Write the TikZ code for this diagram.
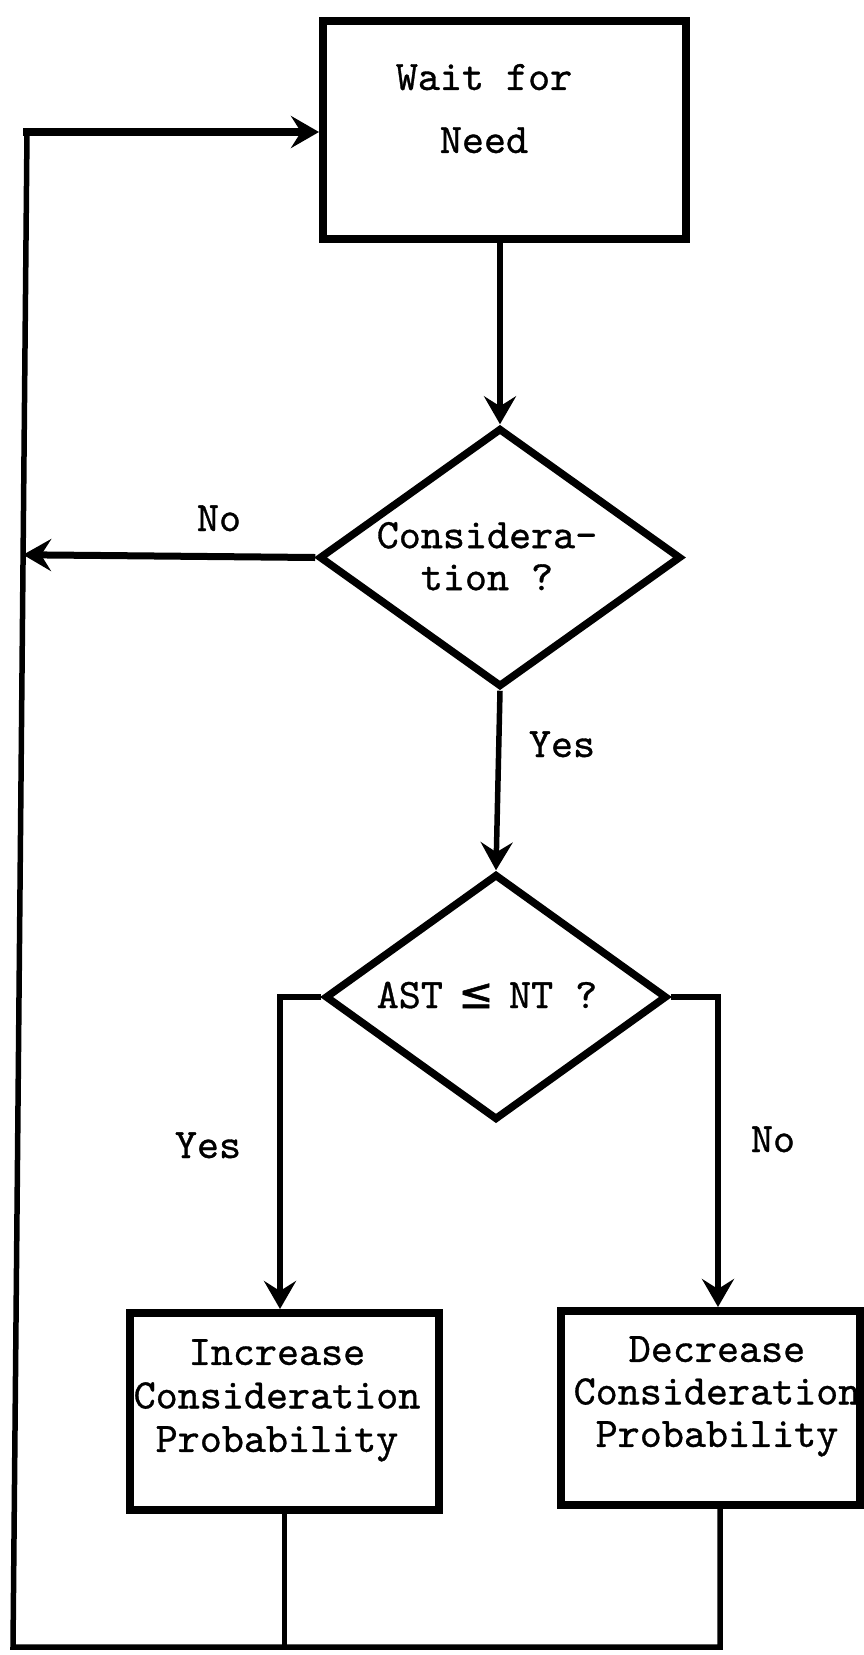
\documentclass[tikz,border=0pt]{standalone}
\usepackage{fontspec}
\newfontfamily\dvsym{DejaVu Sans}[FakeBold=1.2]
\newfontfamily\tw{lmmono10-regular.otf}[FakeBold=0.8]
\usetikzlibrary{shapes.geometric,arrows.meta,calc}
\tikzset{
  txt/.style={font=\fontsize{42}{#1}\selectfont\tw, inner sep=0pt, align=center},
  lbl/.style={font=\fontsize{42}{42}\selectfont\tw, inner sep=0pt, anchor=base},
  boxnode/.style={draw, rectangle, line width=8pt},
  decision/.style={draw, diamond, line width=7.5pt, inner sep=0pt},
  conn/.style={line width=5.5pt, -{Stealth[length=28pt,width=32pt,inset=10pt]}},
  flow/.style={line width=5.5pt},
}
\begin{document}
\begin{tikzpicture}[x=1pt,y=-1pt,line join=miter]
\useasboundingbox (0,0) rectangle (863,1655);
% boxes and decisions
\node[boxnode, minimum width=363pt, minimum height=218pt] (wait) at (504.5,130) {};
\node[txt=63] (waitT) at (484,108.6) {Wait for\\Need};
\node[decision, minimum width=362pt, minimum height=259pt] (d1) at (500,557.5) {};
\node[txt=42] (d1T) at (487,556.2) {Considera-\\tion ?};
\node[decision, minimum width=342pt, minimum height=246pt] (d2) at (496,997) {};
\node[lbl] (d2T) at (487,1008) {AST \makebox[0.525em]{{\dvsym ≤}} NT ?};
\node[txt=43.5] (incT) at (277,1400.3) {Increase\\Consideration\\Probability};
\node[boxnode, minimum width=309pt, minimum height=197pt] (inc) at (284.5,1411.5) {};
\node[txt=42.5] (decT) at (717,1396.3) {Decrease\\Consideration\\Probability};
\node[boxnode, minimum width=299pt, minimum height=194pt] (dec) at (710.5,1408) {};
% loop corners
\coordinate (tl) at (27,132);
\coordinate (bl) at (13,1647);
% connectors
\draw[conn, line width=6pt] (wait.south -| d1.north) -- (d1.north);
\draw[conn] (d1.south) -- (d2.north);
\draw[conn, line width=7pt] (d1.west) -- ($(tl)!(d1.west)!(bl)$);
\draw[conn] (d2.west) -| ([xshift=-4.5pt]inc.north);
\draw[conn] (d2.east) -| ([xshift=7.5pt]dec.north);
\draw[flow] (inc.south) -- (inc.south |- bl);
\draw[flow, line cap=rect] ([xshift=9.5pt]dec.south) |- (bl) -- (tl);
\draw[conn, line width=8pt, line cap=rect] (tl) -- (tl -| wait.west);
% labels
\node[lbl] (noA) at (219,531) {No};
\node[lbl] (yesA) at (562,757) {Yes};
\node[lbl] (yesB) at (208,1158) {Yes};
\node[lbl] (noB) at (773,1152) {No};
\end{tikzpicture}
\end{document}
